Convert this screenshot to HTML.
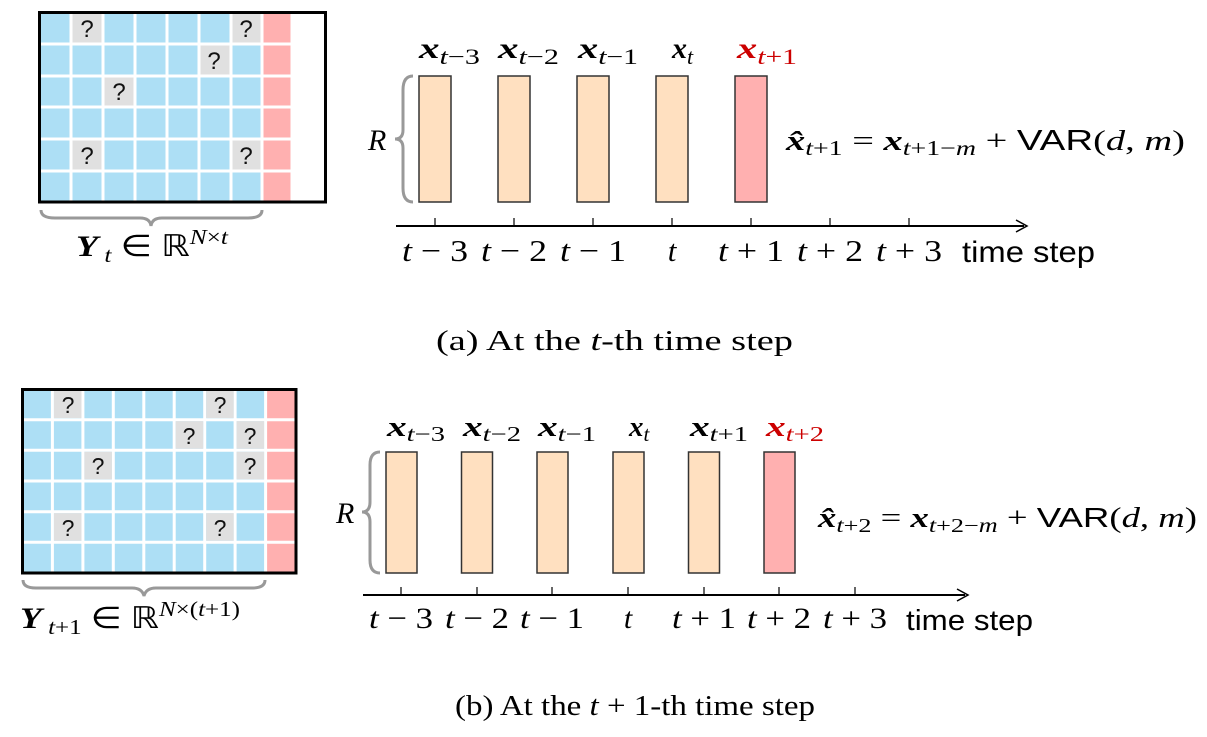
<!DOCTYPE html>
<html><head><meta charset="utf-8"><style>
html,body{margin:0;padding:0;background:#fff;}
svg{display:block;}
.m{font-family:"Liberation Serif",serif;font-style:italic;}
.r{font-family:"Liberation Serif",serif;}
.xb{font-family:"Liberation Serif",serif;font-style:italic;font-weight:bold;}
.s{font-family:"Liberation Sans",sans-serif;}
</style></head><body>
<svg width="1207" height="737" viewBox="0 0 1207 737" xmlns="http://www.w3.org/2000/svg">
<!-- TOP GRID -->
<rect x="39" y="12" width="223" height="190" fill="#addff5"/>
<rect x="262" y="12" width="30" height="190" fill="#ffb0b0"/>
<g stroke="#fff" stroke-width="3">
<line x1="71" y1="12" x2="71" y2="202"/><line x1="103" y1="12" x2="103" y2="202"/><line x1="135" y1="12" x2="135" y2="202"/><line x1="167" y1="12" x2="167" y2="202"/><line x1="199" y1="12" x2="199" y2="202"/><line x1="231" y1="12" x2="231" y2="202"/><line x1="262" y1="12" x2="262" y2="202"/><line x1="292" y1="12" x2="292" y2="202"/>
<line x1="39" y1="44" x2="292" y2="44"/><line x1="39" y1="76" x2="292" y2="76"/><line x1="39" y1="107" x2="292" y2="107"/><line x1="39" y1="139" x2="292" y2="139"/><line x1="39" y1="171" x2="292" y2="171"/>
</g>
<g fill="#e0e0e0">
<rect x="72.5" y="13" width="29" height="29.5"/><rect x="232.5" y="13" width="28" height="29.5"/>
<rect x="200.5" y="45.5" width="29" height="29"/><rect x="104.5" y="77.5" width="29" height="28"/>
<rect x="72.5" y="140.5" width="29" height="29"/><rect x="232.5" y="140.5" width="28" height="29"/>
</g>
<g class="s" font-size="24" text-anchor="middle" fill="#111">
<text x="87" y="37">?</text><text x="246" y="37">?</text><text x="214" y="69">?</text><text x="119" y="100">?</text><text x="87" y="164">?</text><text x="246" y="164">?</text>
</g>
<rect x="39.5" y="12.5" width="286" height="189.5" fill="none" stroke="#000" stroke-width="3"/>
<path d="M41,210 Q41,218 55,218 L140,218 Q150,218 151,226 Q152,218 162,218 L248,218 Q262,218 262,210" fill="none" stroke="#999" stroke-width="3"/>
<text x="76" y="256" font-size="30" textLength="152" lengthAdjust="spacingAndGlyphs"><tspan class="xb">Y</tspan><tspan class="m" font-size="21" dy="6"> t</tspan><tspan class="r" dy="-6"> ∈ ℝ</tspan><tspan class="m" font-size="21" dy="-12">N</tspan><tspan class="r" font-size="21">×</tspan><tspan class="m" font-size="21">t</tspan></text>

<!-- TOP TIMELINE -->
<path d="M413,76 Q403,76 403,90 L403,130 Q403,139 395,139 Q403,139 403,148 L403,188 Q403,202 413,202" fill="none" stroke="#999" stroke-width="3"/>
<text x="368" y="150" class="m" font-size="30">R</text>
<g stroke="#333" stroke-width="1.5">
<rect x="419" y="76" width="32" height="126" fill="#ffe0c0"/>
<rect x="498" y="76" width="32" height="126" fill="#ffe0c0"/>
<rect x="577" y="76" width="32" height="126" fill="#ffe0c0"/>
<rect x="656" y="76" width="32" height="126" fill="#ffe0c0"/>
<rect x="735" y="76" width="32" height="126" fill="#ffb0b0"/>
</g>
<g font-size="30">
<text x="419" y="58" textLength="61" lengthAdjust="spacingAndGlyphs"><tspan class="xb">x</tspan><tspan class="m" font-size="22" dy="6">t</tspan><tspan class="r" font-size="22">−3</tspan></text>
<text x="498" y="58" textLength="61" lengthAdjust="spacingAndGlyphs"><tspan class="xb">x</tspan><tspan class="m" font-size="22" dy="6">t</tspan><tspan class="r" font-size="22">−2</tspan></text>
<text x="578" y="58" textLength="60" lengthAdjust="spacingAndGlyphs"><tspan class="xb">x</tspan><tspan class="m" font-size="22" dy="6">t</tspan><tspan class="r" font-size="22">−1</tspan></text>
<text x="672" y="58"><tspan class="xb">x</tspan><tspan class="m" font-size="22" dy="6">t</tspan></text>
<text x="737" y="58" fill="#cc0000" textLength="60" lengthAdjust="spacingAndGlyphs"><tspan class="xb">x</tspan><tspan class="m" font-size="22" dy="6">t</tspan><tspan class="r" font-size="22">+1</tspan></text>
</g>
<line x1="396" y1="226" x2="1024" y2="226" stroke="#000" stroke-width="2"/>
<path d="M1016,220 L1027,226 L1016,232" fill="none" stroke="#000" stroke-width="1.5"/>
<g stroke="#000" stroke-width="1.2">
<line x1="435" y1="218" x2="435" y2="226"/><line x1="514" y1="218" x2="514" y2="226"/><line x1="593" y1="218" x2="593" y2="226"/><line x1="672" y1="218" x2="672" y2="226"/><line x1="751" y1="218" x2="751" y2="226"/><line x1="830" y1="218" x2="830" y2="226"/><line x1="909" y1="218" x2="909" y2="226"/>
</g>
<g font-size="31">
<text x="402" y="261" textLength="66" lengthAdjust="spacingAndGlyphs"><tspan class="m">t</tspan><tspan class="r"> − 3</tspan></text>
<text x="481" y="261" textLength="66" lengthAdjust="spacingAndGlyphs"><tspan class="m">t</tspan><tspan class="r"> − 2</tspan></text>
<text x="560" y="261" textLength="66" lengthAdjust="spacingAndGlyphs"><tspan class="m">t</tspan><tspan class="r"> − 1</tspan></text>
<text x="672" y="261" class="m" text-anchor="middle">t</text>
<text x="718" y="261" textLength="66" lengthAdjust="spacingAndGlyphs"><tspan class="m">t</tspan><tspan class="r"> + 1</tspan></text>
<text x="797" y="261" textLength="66" lengthAdjust="spacingAndGlyphs"><tspan class="m">t</tspan><tspan class="r"> + 2</tspan></text>
<text x="876" y="261" textLength="66" lengthAdjust="spacingAndGlyphs"><tspan class="m">t</tspan><tspan class="r"> + 3</tspan></text>
</g>
<text x="962" y="262" class="s" font-size="30" textLength="133" lengthAdjust="spacingAndGlyphs">time step</text>
<text x="786" y="150" font-size="29" textLength="399" lengthAdjust="spacingAndGlyphs"><tspan class="xb">x̂</tspan><tspan class="m" font-size="21" dy="5">t</tspan><tspan class="r" font-size="21">+1</tspan><tspan class="r" dy="-5"> = </tspan><tspan class="xb">x</tspan><tspan class="m" font-size="21" dy="5">t</tspan><tspan class="r" font-size="21">+1−</tspan><tspan class="m" font-size="21">m</tspan><tspan class="r" dy="-5"> + </tspan><tspan class="s">VAR</tspan><tspan class="r">(</tspan><tspan class="m">d</tspan><tspan class="r">, </tspan><tspan class="m">m</tspan><tspan class="r">)</tspan></text>

<text x="436" y="350" class="r" font-size="28" textLength="357" lengthAdjust="spacingAndGlyphs">(a) At the <tspan class="m">t</tspan>-th time step</text>

<!-- BOTTOM GRID -->
<rect x="22" y="389" width="244" height="184" fill="#addff5"/>
<rect x="266" y="389" width="30" height="184" fill="#ffb0b0"/>
<g stroke="#fff" stroke-width="3">
<line x1="52.4" y1="389" x2="52.4" y2="573"/><line x1="82.9" y1="389" x2="82.9" y2="573"/><line x1="113.3" y1="389" x2="113.3" y2="573"/><line x1="143.8" y1="389" x2="143.8" y2="573"/><line x1="174.2" y1="389" x2="174.2" y2="573"/><line x1="204.7" y1="389" x2="204.7" y2="573"/><line x1="235.1" y1="389" x2="235.1" y2="573"/><line x1="265.6" y1="389" x2="265.6" y2="573"/>
<line x1="22" y1="419.7" x2="296" y2="419.7"/><line x1="22" y1="450.3" x2="296" y2="450.3"/><line x1="22" y1="481" x2="296" y2="481"/><line x1="22" y1="511.7" x2="296" y2="511.7"/><line x1="22" y1="542.3" x2="296" y2="542.3"/>
</g>
<g fill="#e0e0e0">
<rect x="54" y="390" width="27.5" height="28"/><rect x="206.2" y="390" width="27.5" height="28"/>
<rect x="175.7" y="421.2" width="27.5" height="27.5"/><rect x="236.6" y="421.2" width="27.5" height="27.5"/>
<rect x="84.4" y="451.8" width="27.5" height="27.5"/><rect x="236.6" y="451.8" width="27.5" height="27.5"/>
<rect x="54" y="513.2" width="27.5" height="27.5"/><rect x="206.2" y="513.2" width="27.5" height="27.5"/>
</g>
<g class="s" font-size="23" text-anchor="middle" fill="#111">
<text x="68" y="413">?</text><text x="220" y="413">?</text><text x="189" y="444">?</text><text x="250" y="444">?</text><text x="98" y="474">?</text><text x="250" y="474">?</text><text x="68" y="536">?</text><text x="220" y="536">?</text>
</g>
<rect x="22.5" y="389.5" width="273.5" height="183.5" fill="none" stroke="#000" stroke-width="3"/>
<path d="M23,580 Q23,588 36,588 L132,588 Q142,588 144,596 Q146,588 156,588 L252,588 Q265,588 265,580" fill="none" stroke="#999" stroke-width="3"/>
<text x="20" y="628" font-size="30" textLength="220" lengthAdjust="spacingAndGlyphs"><tspan class="xb">Y</tspan><tspan class="m" font-size="21" dy="6"> t</tspan><tspan class="r" font-size="21">+1</tspan><tspan class="r" dy="-6"> ∈ ℝ</tspan><tspan class="m" font-size="21" dy="-12">N</tspan><tspan class="r" font-size="21">×(</tspan><tspan class="m" font-size="21">t</tspan><tspan class="r" font-size="21">+1)</tspan></text>

<!-- BOTTOM TIMELINE -->
<path d="M380,452 Q370,452 370,465 L370,502 Q370,512 362,512 Q370,512 370,522 L370,560 Q370,573 380,573" fill="none" stroke="#999" stroke-width="3"/>
<text x="336" y="523" class="m" font-size="30">R</text>
<g stroke="#333" stroke-width="1.5">
<rect x="386" y="452" width="31" height="121" fill="#ffe0c0"/>
<rect x="461.5" y="452" width="31" height="121" fill="#ffe0c0"/>
<rect x="537" y="452" width="31" height="121" fill="#ffe0c0"/>
<rect x="613" y="452" width="31" height="121" fill="#ffe0c0"/>
<rect x="688.5" y="452" width="31" height="121" fill="#ffe0c0"/>
<rect x="764" y="452" width="31" height="121" fill="#ffb0b0"/>
</g>
<g font-size="29">
<text x="387" y="436" textLength="58" lengthAdjust="spacingAndGlyphs"><tspan class="xb">x</tspan><tspan class="m" font-size="21" dy="5">t</tspan><tspan class="r" font-size="21">−3</tspan></text>
<text x="463" y="436" textLength="58" lengthAdjust="spacingAndGlyphs"><tspan class="xb">x</tspan><tspan class="m" font-size="21" dy="5">t</tspan><tspan class="r" font-size="21">−2</tspan></text>
<text x="538" y="436" textLength="58" lengthAdjust="spacingAndGlyphs"><tspan class="xb">x</tspan><tspan class="m" font-size="21" dy="5">t</tspan><tspan class="r" font-size="21">−1</tspan></text>
<text x="629" y="436"><tspan class="xb">x</tspan><tspan class="m" font-size="21" dy="5">t</tspan></text>
<text x="690" y="436" textLength="58" lengthAdjust="spacingAndGlyphs"><tspan class="xb">x</tspan><tspan class="m" font-size="21" dy="5">t</tspan><tspan class="r" font-size="21">+1</tspan></text>
<text x="766" y="436" fill="#cc0000" textLength="58" lengthAdjust="spacingAndGlyphs"><tspan class="xb">x</tspan><tspan class="m" font-size="21" dy="5">t</tspan><tspan class="r" font-size="21">+2</tspan></text>
</g>
<line x1="363" y1="595" x2="965" y2="595" stroke="#000" stroke-width="2"/>
<path d="M957,589 L968,595 L957,601" fill="none" stroke="#000" stroke-width="1.5"/>
<g stroke="#000" stroke-width="1.2">
<line x1="401" y1="587" x2="401" y2="595"/><line x1="477" y1="587" x2="477" y2="595"/><line x1="552" y1="587" x2="552" y2="595"/><line x1="628" y1="587" x2="628" y2="595"/><line x1="704" y1="587" x2="704" y2="595"/><line x1="779" y1="587" x2="779" y2="595"/><line x1="855" y1="587" x2="855" y2="595"/>
</g>
<g font-size="30">
<text x="369" y="628" textLength="64" lengthAdjust="spacingAndGlyphs"><tspan class="m">t</tspan><tspan class="r"> − 3</tspan></text>
<text x="445" y="628" textLength="64" lengthAdjust="spacingAndGlyphs"><tspan class="m">t</tspan><tspan class="r"> − 2</tspan></text>
<text x="520" y="628" textLength="64" lengthAdjust="spacingAndGlyphs"><tspan class="m">t</tspan><tspan class="r"> − 1</tspan></text>
<text x="628" y="628" class="m" text-anchor="middle">t</text>
<text x="672" y="628" textLength="64" lengthAdjust="spacingAndGlyphs"><tspan class="m">t</tspan><tspan class="r"> + 1</tspan></text>
<text x="747" y="628" textLength="64" lengthAdjust="spacingAndGlyphs"><tspan class="m">t</tspan><tspan class="r"> + 2</tspan></text>
<text x="823" y="628" textLength="64" lengthAdjust="spacingAndGlyphs"><tspan class="m">t</tspan><tspan class="r"> + 3</tspan></text>
</g>
<text x="906" y="630" class="s" font-size="29" textLength="127" lengthAdjust="spacingAndGlyphs">time step</text>
<text x="818" y="527" font-size="28" textLength="379" lengthAdjust="spacingAndGlyphs"><tspan class="xb">x̂</tspan><tspan class="m" font-size="20" dy="5">t</tspan><tspan class="r" font-size="20">+2</tspan><tspan class="r" dy="-5"> = </tspan><tspan class="xb">x</tspan><tspan class="m" font-size="20" dy="5">t</tspan><tspan class="r" font-size="20">+2−</tspan><tspan class="m" font-size="20">m</tspan><tspan class="r" dy="-5"> + </tspan><tspan class="s">VAR</tspan><tspan class="r">(</tspan><tspan class="m">d</tspan><tspan class="r">, </tspan><tspan class="m">m</tspan><tspan class="r">)</tspan></text>

<text x="455" y="715" class="r" font-size="28" textLength="360" lengthAdjust="spacingAndGlyphs">(b) At the <tspan class="m">t</tspan> + 1-th time step</text>
</svg>
</body></html>
